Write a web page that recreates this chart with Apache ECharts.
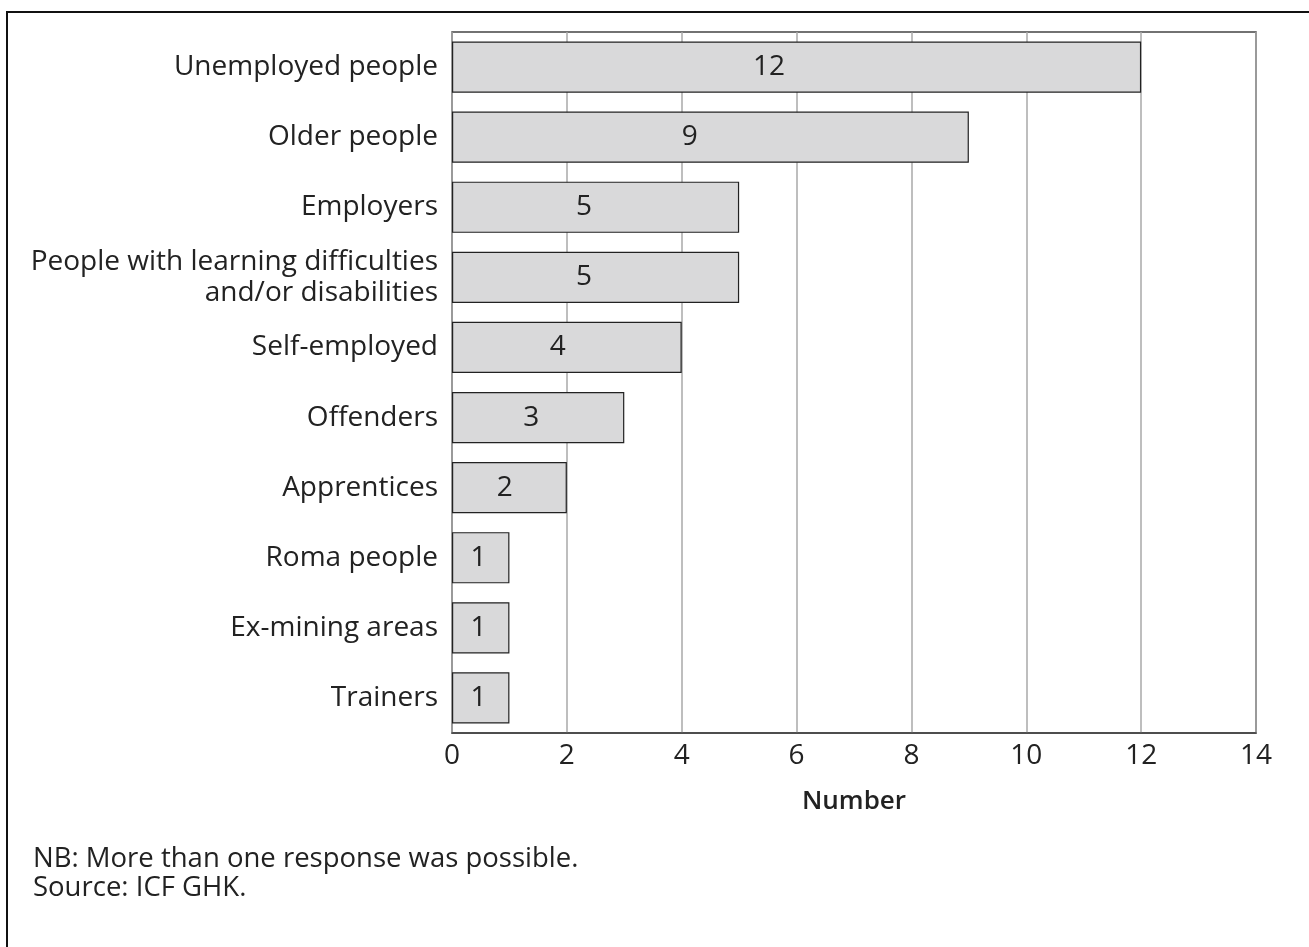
<!DOCTYPE html>
<html><head><meta charset="utf-8">
<script src="https://cdn.jsdelivr.net/npm/echarts@6/dist/echarts.min.js"></script>
<style>
html,body{margin:0;padding:0;background:#fff;width:1309px;height:947px;overflow:hidden;}
#frame{position:absolute;left:6px;top:11px;width:1400px;height:1000px;border-left:2px solid #111;border-top:2px solid #111;}
#c{position:absolute;left:0;top:0;width:1309px;height:947px;}
.note{position:absolute;left:33px;font-family:"Open Sans",sans-serif;font-size:27.5px;line-height:29px;color:#222;white-space:nowrap;}
</style></head>
<body>
<div id="frame"></div>
<div id="c"></div>
<div class="note" style="top:842px">NB: More than one response was possible.</div>
<div class="note" style="top:871px">Source: ICF GHK.</div>
<script>
const categories = ["Unemployed people","Older people","Employers","People with learning difficulties\nand/or disabilities","Self-employed","Offenders","Apprentices","Roma people","Ex-mining areas","Trainers"];
const values = [12,9,5,5,4,3,2,1,1,1];
const xTicks = {min:0,max:14,interval:2};
const xName = "Number";
const font = '"Open Sans", sans-serif';
const chart = echarts.init(document.getElementById('c'));
chart.setOption({
  animation:false,
  grid:{left:452,right:53,top:32,bottom:214,show:true,borderColor:'#444',borderWidth:1.5,backgroundColor:'transparent'},
  xAxis:{type:'value',min:xTicks.min,max:xTicks.max,interval:xTicks.interval,
    name:xName,nameLocation:'middle',nameGap:56,
    nameTextStyle:{fontFamily:font,fontSize:26,fontWeight:600,color:'#222'},
    axisLine:{show:true,lineStyle:{color:'#444',width:1.5}},axisTick:{show:false},
    axisLabel:{fontFamily:font,fontSize:28,color:'#222',margin:9},
    splitLine:{show:true,lineStyle:{color:'#a8a8a8',width:1.5}}},
  yAxis:{type:'category',data:categories,inverse:true,
    axisLine:{show:false},axisTick:{show:false},
    axisLabel:{fontFamily:font,fontSize:28,color:'#222',margin:14,lineHeight:31,align:'right'},
    splitLine:{show:false}},
  series:[{type:'bar',data:values,barWidth:'73%',
    itemStyle:{color:'#d9d9da',borderColor:'#222',borderWidth:1.2},
    label:{show:true,position:['46%','50%'],align:'center',verticalAlign:'middle',fontFamily:font,fontSize:28,color:'#222'}}]
});
</script>
</body></html>
